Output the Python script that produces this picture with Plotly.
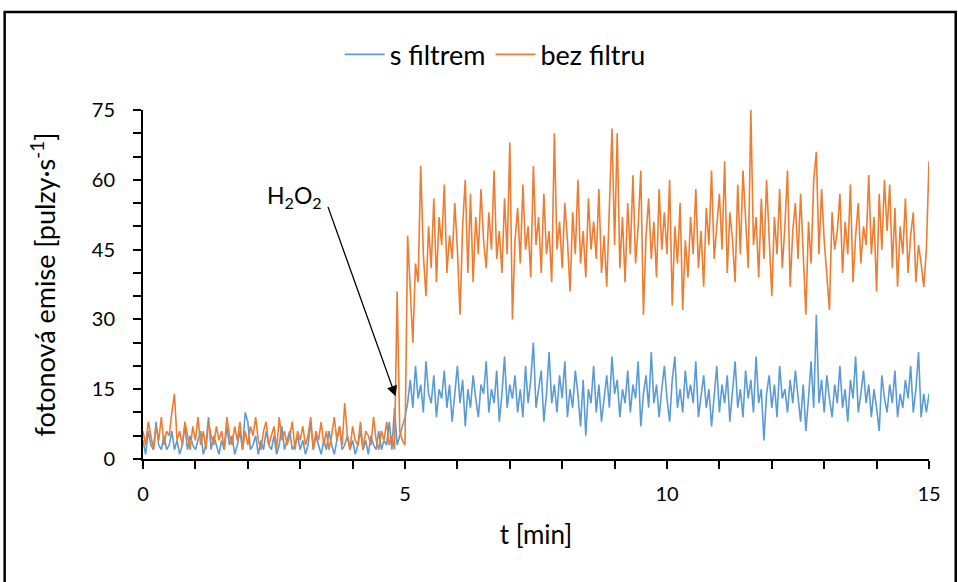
import plotly.graph_objects as go

# sampling step (minutes) - one reading every 3 s
STEP_MIN = 3 / 60

# s filtrem (with filter), 0 - 4.95 min
blue_pre = [
    4, 1, 6, 3, 2, 8, 3, 2, 5, 2,
    3, 6, 2, 4, 1, 3, 7, 2, 5, 3,
    2, 4, 6, 1, 3, 9, 2, 5, 3, 1,
    4, 2, 7, 3, 5, 1, 3, 6, 2, 10,
    8, 2, 3, 5, 1, 4, 2, 6, 3, 2,
    5, 1, 3, 7, 2, 4, 6, 2, 3, 5,
    2, 4, 1, 3, 8, 2, 5, 3, 1, 4,
    2, 6, 3, 1, 4, 7, 2, 3, 5, 2,
    4, 1, 3, 6, 2, 4, 1, 5, 3, 2,
    6, 2, 4, 3, 8, 2, 11, 3, 5, 7,
]
# s filtrem, 5.00 - 15.00 min
blue_post = [
    9, 12, 17, 11, 20, 13, 16, 10, 21, 14,
    12, 18, 9, 15, 13, 19, 11, 16, 8, 14,
    20, 12, 17, 7, 15, 11, 18, 13, 9, 16,
    14, 21, 10, 15, 12, 19, 8, 14, 22, 11,
    16, 13, 18, 10, 15, 9, 20, 12, 17, 25,
    11, 15, 19, 8, 14, 23, 12, 16, 10, 18,
    13, 21, 9, 15, 11, 19, 14, 7, 17, 5,
    15, 12, 20, 10, 16, 8, 13, 18, 11, 22,
    14, 17, 9, 15, 12, 19, 10, 16, 13, 21,
    7, 14, 18, 11, 23, 12, 16, 9, 15, 20,
    13, 8, 17, 22, 11, 15, 10, 19, 13, 16,
    12, 21, 9, 14, 18, 11, 15, 7, 13, 20,
    10, 16, 12, 18, 8, 14, 21, 11, 15, 9,
    19, 13, 17, 10, 22, 12, 15, 4, 14, 18,
    11, 16, 9, 20, 13, 15, 10, 17, 12, 19,
    14, 8, 16, 6, 13, 21, 11, 31, 12, 17,
    10, 18, 13, 9, 16, 12, 20, 11, 15, 8,
    17, 13, 22, 10, 14, 19, 12, 16, 9, 15,
    11, 6, 18, 13, 10, 16, 12, 19, 9, 14,
    11, 17, 13, 20, 10, 15, 23, 9, 14, 10,
    14,
]

# bez filtru (without filter), 0 - 4.95 min
orange_pre = [
    6, 3, 8, 5, 2, 7, 4, 9, 3, 6,
    5, 10, 14, 4, 6, 3, 8, 5, 2, 7,
    4, 9, 3, 6, 2, 8, 5, 3, 7, 4,
    6, 2, 9, 5, 3, 7, 4, 8, 2, 6,
    3, 7, 5, 9, 4, 2, 6, 8, 3, 5,
    7, 2, 9, 4, 6, 3, 5, 8, 2, 6,
    4, 7, 3, 5, 9, 2, 6, 4, 8, 3,
    6, 2, 5, 9, 4, 7, 3, 12, 5, 2,
    7, 4, 3, 8, 2, 6, 5, 3, 9, 4,
    2, 6, 4, 8, 3, 5, 2, 36, 6, 4,
]
# bez filtru, 5.00 - 15.00 min
orange_post = [
    3, 48, 36, 25, 42, 38, 63, 44, 35, 50,
    41, 56, 38, 52, 46, 59, 40, 48, 43, 55,
    45, 31, 50, 60, 40, 57, 38, 52, 44, 58,
    47, 41, 53, 45, 62, 43, 49, 40, 56, 44,
    68, 30, 47, 54, 42, 59, 45, 50, 39, 63,
    46, 52, 40, 57, 44, 49, 38, 70, 45, 51,
    41, 55, 47, 36, 53, 44, 60, 42, 49, 39,
    56, 45, 51, 43, 58, 40, 48, 37, 54, 71,
    46, 70, 41, 52, 38, 55, 44, 61, 42, 50,
    62, 31, 48, 56, 43, 51, 39, 58, 45, 53,
    44, 60, 33, 50, 42, 55, 32, 47, 39, 52,
    44, 58, 41, 49, 37, 54, 46, 62, 43, 51,
    57, 45, 64, 40, 53, 47, 38, 59, 44, 62,
    50, 41, 75, 46, 52, 39, 56, 43, 60, 48,
    35, 52, 44, 58, 41, 50, 62, 37, 49, 55,
    43, 57, 45, 31, 51, 42, 60, 66, 44, 58,
    47, 39, 32, 53, 45, 49, 57, 40, 51, 44,
    59, 38, 48, 55, 42, 50, 46, 61, 44, 52,
    36, 57, 45, 60, 49, 59, 41, 54, 37, 50,
    44, 56, 40, 48, 53, 38, 46, 42, 37, 45,
    64,
]

blue = blue_pre + blue_post
orange = orange_pre + orange_post
t = [i * STEP_MIN for i in range(len(blue))]

x_ticks = [0, 5, 10, 15]
y_ticks = [0, 15, 30, 45, 60, 75]

BLUE = "#5B9BD5"
ORANGE = "#ED7D31"
FONT = "Lato"

fig = go.Figure()
fig.add_trace(go.Scatter(x=t, y=blue, mode="lines", name="s filtrem",
                         line=dict(color=BLUE, width=1.6)))
fig.add_trace(go.Scatter(x=t, y=orange, mode="lines", name="bez filtru",
                         line=dict(color=ORANGE, width=1.6)))

axis_common = dict(
    showgrid=False, zeroline=False, showline=True, linecolor="black",
    linewidth=2, ticks="outside", ticklen=8, tickwidth=1.5, tickcolor="black",
    tickfont=dict(family=FONT, size=20, color="black"),
)

fig.update_xaxes(range=[0, 15], tickvals=x_ticks, ticklabelstandoff=8,
                 minor=dict(dtick=1, ticks="outside", ticklen=8, tickcolor="black", tickwidth=1.5),
                 title=dict(text="t [min]", font=dict(family=FONT, size=26, color="black"), standoff=22),
                 **axis_common)
fig.update_yaxes(range=[0, 75], tickvals=y_ticks, ticklabelstandoff=14,
                 minor=dict(dtick=5, ticks="outside", ticklen=8, tickcolor="black", tickwidth=1.5),
                 title=dict(text="fotonová emise [pulzy·s<sup>-1</sup>]",
                            font=dict(family=FONT, size=27, color="black"), standoff=28),
                 **axis_common)

# H2O2 label and arrow
fig.add_annotation(x=2.9, y=56.5, xref="x", yref="y", text="H<sub>2</sub>O<sub>2</sub>",
                   showarrow=False, font=dict(family=FONT, size=23, color="black"))
fig.add_annotation(x=4.82, y=13.5, xref="x", yref="y", ax=3.52, ay=54.5,
                   axref="x", ayref="y", text="", showarrow=True,
                   arrowhead=2, arrowsize=1.6, arrowwidth=1.3, arrowcolor="black")

# chart border
fig.add_shape(type="rect", xref="paper", yref="paper",
              x0=-0.176, x1=1.034, y0=-0.4, y1=1.281,
              line=dict(color="black", width=2.5), fillcolor="rgba(0,0,0,0)")

fig.update_layout(
    width=958, height=582,
    margin=dict(l=143, r=29, t=110, b=123),
    paper_bgcolor="white", plot_bgcolor="white",
    font=dict(family=FONT, color="black"),
    legend=dict(orientation="h", x=0.448, xanchor="center", y=1.158, yanchor="middle",
                font=dict(family=FONT, size=27, color="black"), itemwidth=40,
                bgcolor="rgba(0,0,0,0)"),
)

fig.write_html("out.html")
